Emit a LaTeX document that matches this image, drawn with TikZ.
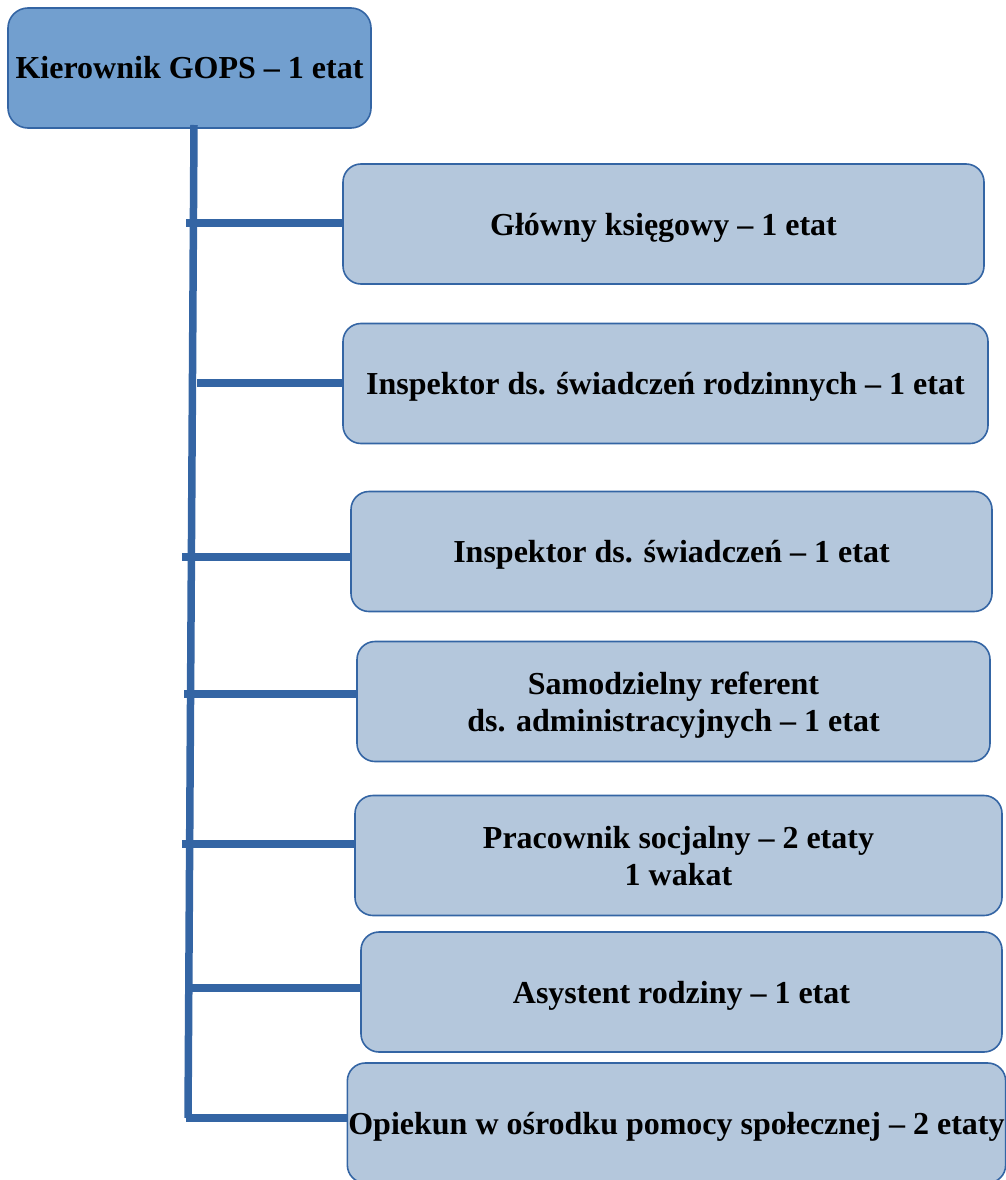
\documentclass[tikz,border=0pt]{standalone}
\usepackage{fontspec}
\setmainfont{Liberation Serif}
\definecolor{headfill}{HTML}{729FCF}
\definecolor{stafffill}{HTML}{B4C7DC}
\definecolor{edgeblue}{HTML}{3465A4}
\tikzset{
  headbox/.style={draw=edgeblue, line width=1.6pt, rounded corners=20pt, fill=headfill,
    minimum width=363pt, minimum height=120pt, inner sep=1pt, align=center,
    font=\fontsize{32}{37}\selectfont\bfseries},
  staffbox/.style={draw=edgeblue, line width=1.6pt, rounded corners=18pt, fill=stafffill,
    minimum width=#1, minimum height=120pt, inner sep=1pt, align=center, text depth=0pt,
    font=\fontsize{32}{37}\selectfont\bfseries},
  branch/.style={draw=edgeblue, line width=7.5pt}
}
\begin{document}
\begin{tikzpicture}[x=1pt,y=-1pt]
\useasboundingbox (0,0) rectangle (1006,1180);
\node[headbox] (kier) at (189.5,68) {Kierownik GOPS -- 1 etat};
\node[staffbox=641pt] (b1) at (663.5,224) {Główny księgowy -- 1 etat};
\node[staffbox=645pt] (b2) at (665.5,383.5) {Inspektor ds. świadczeń rodzinnych -- 1 etat};
\node[staffbox=641pt] (b3) at (671.5,551.5) {Inspektor ds. świadczeń -- 1 etat};
\node[staffbox=633pt] (b4) at (673.5,701.5) {Samodzielny referent\\ ds. administracyjnych -- 1 etat};
\node[staffbox=647pt] (b5) at (678.5,855.5) {Pracownik socjalny -- 2 etaty\\ 1 wakat};
\node[staffbox=641pt] (b6) at (681.5,992) {Asystent rodziny -- 1 etat};
\node[staffbox=655pt] (b7) at (676.5,1123) {Opiekun w ośrodku pomocy społecznej -- 2 etaty};
\coordinate (top) at (194,125);
\coordinate (s7) at (186,1118);
\draw[branch] (top) -- (188,1118) -- (s7);
\foreach \n/\x/\y in {1/186/223,2/197/383,3/182/557,4/184/694,5/182/844,6/185/988,7/186/1118}
{
\coordinate (s\n) at (\x,\y);
\draw[branch] (s\n) -- (s\n -| b\n.west);
}
\end{tikzpicture}
\end{document}
